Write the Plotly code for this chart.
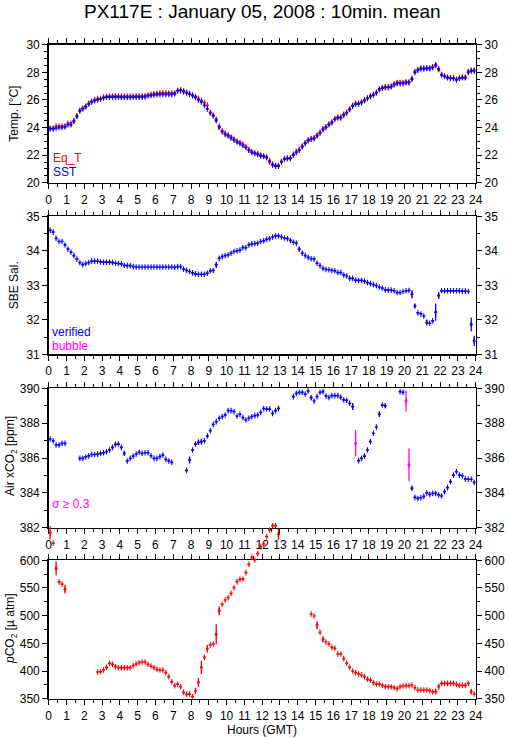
import numpy as np
import plotly.graph_objects as go

# ---------------- data (10-minute means, 6 per hour, hours 0..23) ----------------
hour_ticks = list(range(0, 25))

eq_t = [
    23.95, 23.95, 24.1, 24.1, 24.1, 24.1,
    24.3, 24.3, 24.5, 24.85, 25.25, 25.4,
    25.55, 25.75, 25.9, 26.0, 26.1, 26.1,
    26.2, 26.25, 26.28, 26.28, 26.28, 26.28,
    26.28, 26.28, 26.28, 26.28, 26.28, 26.28,
    26.28, 26.28, 26.3, 26.35, 26.4, 26.45,
    26.48, 26.5, 26.5, 26.5, 26.5, 26.5,
    26.5, 26.7, 26.72, 26.65, 26.55, 26.47,
    26.35, 26.25, 26.1, 25.95, 25.8, 25.6,
    25.1, 24.9, 24.6, 24.1, 23.75, 23.6,
    23.45, 23.3, 23.15, 23.0, 22.9, 22.78,
    22.6, 22.4, 22.25, 22.15, 22.1, 22.0,
    21.95, 21.85, 21.6, 21.35, 21.25, 21.25,
    21.55, 21.75, 21.78, 21.78, 22.05, 22.25,
    22.4, 22.65, 22.9, 23.1, 23.2, 23.25,
    23.45, 23.65, 23.9, 24.05, 24.25, 24.4,
    24.65, 24.75, 24.75, 24.95, 25.1, 25.35,
    25.6, 25.75, 25.75, 25.85, 26.0, 26.15,
    26.3, 26.4, 26.55, 26.8, 26.9, 26.95,
    26.95, 27.0, 27.15, 27.25, 27.25, 27.25,
    27.3, 27.3, 27.55, 28.05, 28.2, 28.3,
    28.3, 28.32, 28.32, 28.4, 28.55, 28.25,
    27.85, 27.75, 27.65, 27.6, 27.6, 27.5,
    27.6, 27.65, 27.65, 28.05, 28.15, 28.15,
]

sst = [
    23.9, 23.9, 23.95, 24.0, 24.0, 24.05,
    24.2, 24.2, 24.45, 24.8, 25.2, 25.35,
    25.5, 25.7, 25.85, 25.95, 26.0, 26.05,
    26.15, 26.2, 26.2, 26.2, 26.2, 26.2,
    26.18, 26.18, 26.18, 26.18, 26.2, 26.2,
    26.2, 26.2, 26.22, 26.3, 26.32, 26.35,
    26.38, 26.4, 26.4, 26.4, 26.4, 26.4,
    26.45, 26.65, 26.68, 26.6, 26.5, 26.42,
    26.3, 26.18, 26.0, 25.85, 25.6, 25.35,
    25.05, 24.85, 24.5, 24.0, 23.7, 23.5,
    23.4, 23.25, 23.1, 22.95, 22.85, 22.7,
    22.55, 22.35, 22.2, 22.12, 22.05, 21.95,
    21.9, 21.82, 21.5, 21.28, 21.2, 21.2,
    21.5, 21.7, 21.75, 21.75, 22.0, 22.2,
    22.35, 22.6, 22.85, 23.05, 23.15, 23.2,
    23.4, 23.6, 23.85, 24.0, 24.2, 24.35,
    24.6, 24.7, 24.7, 24.9, 25.05, 25.3,
    25.55, 25.7, 25.7, 25.8, 25.95, 26.1,
    26.25, 26.35, 26.5, 26.75, 26.85, 26.9,
    26.9, 26.95, 27.1, 27.2, 27.2, 27.2,
    27.25, 27.25, 27.5, 28.0, 28.15, 28.25,
    28.25, 28.27, 28.27, 28.35, 28.5, 28.2,
    27.8, 27.7, 27.6, 27.55, 27.55, 27.45,
    27.55, 27.6, 27.6, 28.0, 28.1, 28.1,
]
temp_err_t = [1.583, 1.75, 9.25, 9.417, 9.583, 20.417, 21.75, 21.917, 23.583]
temp_err = [0.12, 0.08, 0.08, 0.12, 0.1, 0.1, 0.15, 0.1, 0.12]

salinity = [
    34.6, 34.54, 34.36, 34.27, 34.27, 34.17,
    34.05, 33.96, 33.86, 33.76, 33.66, 33.6,
    33.63, 33.66, 33.7, 33.7, 33.7, 33.68,
    33.67, 33.67, 33.67, 33.66, 33.64, 33.63,
    33.62, 33.58, 33.57, 33.57, 33.54, 33.53,
    33.53, 33.53, 33.53, 33.53, 33.53, 33.53,
    33.53, 33.53, 33.53, 33.53, 33.53, 33.53,
    33.52, 33.54, 33.54, 33.47, 33.43, 33.4,
    33.36, 33.33, 33.32, 33.32, 33.32, 33.35,
    33.42, 33.43, 33.59, 33.78, 33.83, 33.86,
    33.88, 33.93, 33.98, 34.0, 34.02, 34.09,
    34.09, 34.17, 34.2, 34.21, 34.22, 34.27,
    34.29, 34.33, 34.35, 34.4, 34.43, 34.43,
    34.4, 34.37, 34.35, 34.3, 34.25, 34.22,
    34.05, 33.93, 33.86, 33.81, 33.77, 33.76,
    33.64, 33.57, 33.49, 33.46, 33.45, 33.43,
    33.42, 33.37, 33.37, 33.3, 33.27, 33.2,
    33.2, 33.15, 33.14, 33.14, 33.12, 33.08,
    33.05, 33.02, 32.99, 32.95, 32.92, 32.87,
    32.86, 32.86, 32.84, 32.79, 32.79, 32.82,
    32.84, 32.85, 32.74, 32.4, 32.2, 32.17,
    32.11, 31.92, 31.9, 31.97, 32.22, 32.7,
    32.84, 32.84, 32.84, 32.84, 32.84, 32.84,
    32.84, 32.83, 32.83, 32.82, 31.87, 31.39,
]
sal_err_t = [9.417, 14.083, 20.417, 20.583, 21.25, 21.75, 21.917, 23.75, 23.917]
sal_err = [0.08, 0.06, 0.12, 0.06, 0.08, 0.25, 0.1, 0.2, 0.15]

N = None
air_xco2 = [
    387.09, 386.98, 386.75, 386.75, 386.84, 386.84,
    N, N, N, N, 385.98, 385.98,
    386.06, 386.12, 386.2, 386.2, 386.22, 386.27,
    386.3, 386.36, 386.46, 386.61, 386.78, 386.8,
    386.61, 386.27, 385.83, 385.98, 386.11, 386.23,
    386.33, 386.27, 386.3, 386.3, 386.13, 385.98,
    385.98, 386.08, 386.17, 385.92, 385.83, 385.75,
    N, N, N, N, 385.29, 385.89,
    386.46, 386.8, 386.9, 386.94, 386.98, 387.26,
    387.57, 387.93, 388.09, 388.28, 388.37, 388.47,
    388.72, 388.72, 388.66, 388.41, 388.51, 388.32,
    388.18, 388.28, 388.37, 388.43, 388.47, 388.62,
    388.83, 388.81, 388.81, 388.56, 388.72, 388.85,
    N, N, N, N, 389.52, 389.71,
    389.77, 389.77, 389.67, 389.85, 389.46, 389.27,
    389.52, 389.77, 389.81, 389.56, 389.48, 389.58,
    389.58, 389.58, 389.48, 389.33, 389.31, 389.14,
    388.95, 386.84, 385.85, 385.98, 386.11, 386.46,
    386.94, 387.42, 387.78, 388.51, 389.04, 389.0,
    N, N, N, N, 389.81, 389.77,
    389.27, 385.6, 384.26, 383.74, 383.68, 383.72,
    383.8, 384.0, 383.91, 383.97, 383.97, 383.88,
    383.82, 384.07, 384.3, 384.64, 385.02, 385.21,
    385.02, 384.98, 384.8, 384.78, 384.78, 384.6,
]
xco2_err_t = [4.25, 7.917, 8.417, 8.583, 14.75, 17.083, 17.25, 18.583, 18.917, 20.083, 20.25, 20.417]
xco2_err = [0.12, 0.2, 0.15, 0.15, 0.1, 0.2, 0.76, 0.15, 0.12, 0.6, 0.94, 0.1]
sigma_limit = 0.3

pco2 = [
    650, 631, 585.5, 561, 557, 548,
    N, N, N, N, N, N,
    N, N, N, N, 398.2, 399,
    401.8, 406.6, 413.9, 412, 407.8, 406,
    406, 406, 406, 406, 409.6, 412.7,
    415, 416.3, 416.3, 412, 409, 406,
    403, 401.8, 401.8, 397, 389.8, 380.7,
    373.5, 376.5, 371.7, 361.4, 357.8, 358.4,
    353.6, 363.9, 379.5, 406.6, 424.7, 439.8,
    447, 448.8, 466.3, 509, 520.5, 528.3,
    532.5, 540.4, 550.6, 561.4, 565.7, 566.3,
    577.7, 592.8, 605.4, 600.6, 612, 624.7,
    629.5, 642.6, 654.8, 662.5, 662.5, 647,
    N, N, N, N, N, N,
    N, N, N, N, 503, 499.4,
    483.1, 469.9, 457.2, 452.4, 448.8, 442.8,
    441, 430.7, 430.7, 422.3, 414, 406.6,
    400, 397, 394.6, 392.8, 389.8, 385,
    383.7, 378.9, 376.5, 376.5, 374.1, 371.7,
    371.7, 371.7, 369.9, 368.1, 371.7, 372.9,
    373.5, 373.5, 374.7, 369.9, 365.7, 365.7,
    365.7, 365.7, 364.5, 362.5, 363, 371.7,
    377.7, 377.7, 377.7, 377.7, 377.7, 375.9,
    374.1, 374.1, 374.1, 377.7, 362.7, 358.4,
]
pco2_err_t = [0.083, 0.417, 0.917, 8.25, 8.417, 8.583, 8.917, 9.417, 9.583, 12.917, 15.083, 15.417, 21.75, 21.917, 23.75]
pco2_err = [12, 13, 8, 6, 8, 12, 7, 18, 8, 10, 7, 5, 5, 5, 4]

# ---------------- helpers ----------------
n_slots = len(sst)
t = (np.arange(n_slots) + 0.5) / 6.0  # centre of each 10-min interval (hours)


def full_err(err_t, err):
    arr = np.zeros(n_slots)
    for tt, e in zip(err_t, err):
        arr[int(tt * 6)] = e
    return arr


RED, BLUE, MAG = "#ff0000", "#0000ff", "#ff00ff"
FONT = "Liberation Sans, Arial, Helvetica, sans-serif"


def cross_trace(x, y, err, color, xa, ya):
    return go.Scatter(
        x=x, y=y, xaxis=xa, yaxis=ya, mode="markers", showlegend=False,
        hoverinfo="skip", cliponaxis=True,
        marker=dict(symbol="line-ns-open", size=4, color=color,
                    line=dict(color=color, width=1.1)),
        error_x=dict(type="constant", value=1.0 / 12, width=0, thickness=1.7, color=color),
        error_y=dict(type="data", array=list(err), width=0, thickness=1.3, color=color),
    )


fig = go.Figure()

# dummy traces so that every subplot / axis is created
for xa, ya in [("x", "y"), ("x2", "y2"), ("x3", "y3"), ("x4", "y4"),
               ("x", "y5"), ("x2", "y6"), ("x3", "y7"), ("x4", "y8")]:
    fig.add_trace(go.Scatter(x=[None], y=[None], xaxis=xa, yaxis=ya, mode="markers",
                             showlegend=False, hoverinfo="skip"))

# panel 1
fig.add_trace(cross_trace(t, eq_t, full_err(temp_err_t, temp_err), RED, "x", "y"))
fig.add_trace(cross_trace(t, sst, full_err(temp_err_t, temp_err), BLUE, "x", "y"))
# panel 2
fig.add_trace(cross_trace(t, salinity, full_err(sal_err_t, sal_err), BLUE, "x2", "y2"))
# panel 3
xe = full_err(xco2_err_t, xco2_err)
low = [v if (v is not None and e < sigma_limit) else None for v, e in zip(air_xco2, xe)]
high = [v if (v is not None and e >= sigma_limit) else None for v, e in zip(air_xco2, xe)]
fig.add_trace(cross_trace(t, low, xe, BLUE, "x3", "y3"))
fig.add_trace(cross_trace(t, high, xe, MAG, "x3", "y3"))
# panel 4 (on an extended, invisible axis with the same scale so values > 600 show)
fig.add_trace(cross_trace(t, pco2, full_err(pco2_err_t, pco2_err), RED, "x4", "y9"))

# ---------------- layout ----------------
W, H = 509, 739
X0, X1 = 48.7, 475.7
panels_px = [(44.7, 182.7), (216.3, 354.3), (388.3, 527.7), (560.3, 698.7)]
xdom = [X0 / W, X1 / W]


def ydom(top, bot):
    return [1 - bot / H, 1 - top / H]


tickfont = dict(family=FONT, size=12, color="black")
y_specs = [([20, 30], 2, 0.5), ([31, 35], 1, 0.5), ([382, 390], 2, 1), ([350, 600], 50, 25)]

layout = dict(
    width=W, height=H, margin=dict(l=0, r=0, t=0, b=0, autoexpand=False),
    paper_bgcolor="white", plot_bgcolor="rgba(0,0,0,0)",
    font=dict(family=FONT, size=12, color="black"),
    showlegend=False,
)

for i, ((top, bot), (rng, dt, mdt)) in enumerate(zip(panels_px, y_specs)):
    k = "" if i == 0 else str(i + 1)
    layout["xaxis" + k] = dict(
        domain=xdom, range=[0, 24], anchor="y" + k, tickmode="array", tickvals=hour_ticks,
        ticktext=[str(h) for h in hour_ticks],
        ticks="outside", ticklen=5, tickwidth=1, tickcolor="black",
        minor=dict(dtick=0.5, tick0=0, ticks="outside", ticklen=3, tickwidth=1, tickcolor="black"),
        showline=True, linecolor="black", linewidth=1.5, mirror="ticks",
        showgrid=False, zeroline=False, tickfont=tickfont, tickangle=0, automargin=False,
    )
    common_y = dict(
        range=rng, tickmode="linear", tick0=rng[0], dtick=dt,
        ticks="outside", ticklen=5, tickwidth=1, tickcolor="black",
        minor=dict(dtick=mdt, tick0=rng[0], ticks="outside", ticklen=3, tickwidth=1, tickcolor="black"),
        showline=True, linecolor="black", linewidth=1.5,
        showgrid=False, zeroline=False, tickfont=tickfont, automargin=False,
    )
    layout["yaxis" + k] = dict(domain=ydom(top, bot), anchor="x" + k, side="left", **common_y)
    layout["yaxis" + str(i + 5)] = dict(overlaying="y" + k, anchor="x" + k, side="right", **common_y)

# extended pCO2 axis, same scale as panel 4
top4, bot4 = panels_px[3]
ppu = (bot4 - top4) / 250.0
ext_top_val = 680.0
ext_top_px = top4 - (ext_top_val - 600.0) * ppu
layout["yaxis9"] = dict(domain=ydom(ext_top_px, bot4), range=[350, ext_top_val], anchor="x4",
                        visible=False, showgrid=False, zeroline=False, automargin=False)

ann = []


def px_ann(text, x, y, color="black", size=12, angle=0, xanchor="center", yanchor="middle"):
    ann.append(dict(text=text, x=x / W, y=1 - y / H, xref="paper", yref="paper",
                    showarrow=False, textangle=angle, xanchor=xanchor, yanchor=yanchor,
                    font=dict(family=FONT, size=size, color=color)))


px_ann("PX117E : January 05, 2008 : 10min. mean", 262, 11, size=19)
px_ann("Temp. [°C]", 14, 113.7, angle=-90)
px_ann("SBE Sal.", 14, 285.3, angle=-90)
px_ann("Air xCO<sub>2</sub> [ppm]", 11, 456, angle=-90)
px_ann("<i>p</i>CO<sub>2</sub> [µ atm]", 11, 629, angle=-90)
px_ann("Eq_T", 51, 158, RED, xanchor="left")
px_ann("SST", 51, 172, BLUE, xanchor="left")
px_ann("verified", 50, 332, BLUE, xanchor="left")
px_ann("bubble", 50, 345.5, MAG, xanchor="left")
px_ann("σ ≥ 0.3", 50, 504, MAG, xanchor="left")
px_ann("Hours (GMT)", 262, 730)
layout["annotations"] = ann

fig.update_layout(**layout)
fig.write_html(
    "out.html",
    config={"displayModeBar": False, "staticPlot": True},
    post_script="document.body.style.margin='0';document.body.style.overflow='hidden';",
)
